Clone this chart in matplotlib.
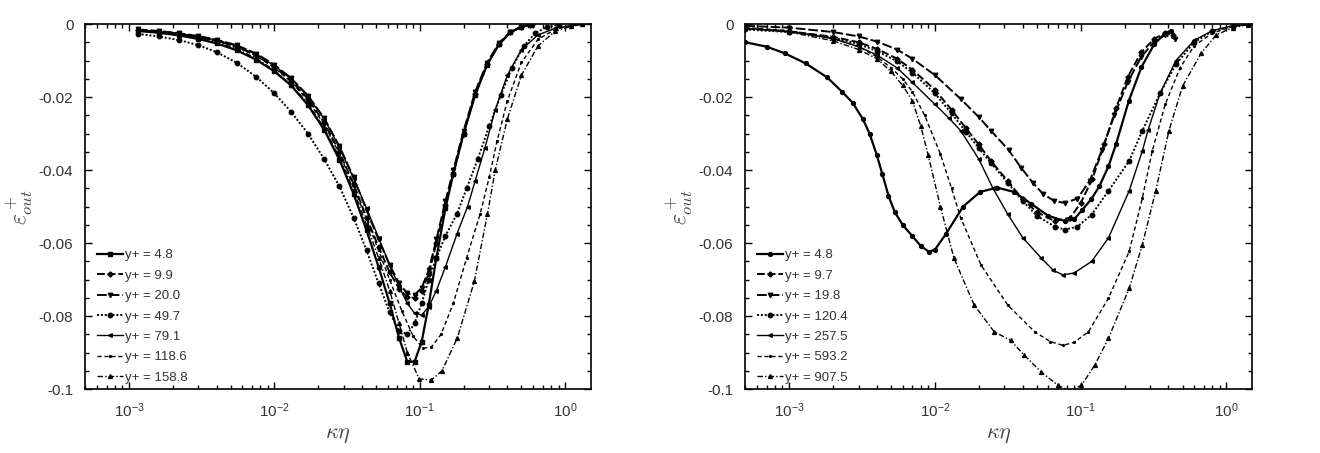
import numpy as np
import matplotlib
matplotlib.use("Agg")
import matplotlib.pyplot as plt
from matplotlib.ticker import FuncFormatter, MultipleLocator, LogLocator, NullFormatter

plt.rcParams['font.family'] = ['Liberation Sans', 'DejaVu Sans']
plt.rcParams['mathtext.fontset'] = 'cm'
plt.rcParams['axes.unicode_minus'] = False

# ---- left panel (kappa*eta, eps_out+) ----
LEFT_LABELS = ["y+ = 4.8", "y+ = 9.9", "y+ = 20.0", "y+ = 49.7", "y+ = 79.1", "y+ = 118.6", "y+ = 158.8"]

L_X_48 = [1.15e-3, 1.6e-3, 2.2e-3, 3e-3, 4e-3, 5.5e-3, 7.5e-3, 1e-2, 1.3e-2, 1.7e-2, 2.2e-2, 2.8e-2, 3.5e-2, 4.3e-2, 5.2e-2, 6.2e-2, 7.2e-2, 8.2e-2, 9.2e-2, 0.103, 0.115, 0.13, 0.15, 0.17, 0.2, 0.24, 0.29, 0.35, 0.42, 0.5, 0.57]
L_Y_48 = [-0.0019, -0.0024, -0.0031, -0.0041, -0.0053, -0.0072, -0.0098, -0.0130, -0.0168, -0.0222, -0.0290, -0.0372, -0.0465, -0.0565, -0.0665, -0.0765, -0.0860, -0.0925, -0.0925, -0.0870, -0.0770, -0.0640, -0.0505, -0.0410, -0.0300, -0.0195, -0.0112, -0.0056, -0.0023, -0.0008, -0.0002]

L_X_99 = [1.15e-3, 1.6e-3, 2.2e-3, 3e-3, 4e-3, 5.5e-3, 7.5e-3, 1e-2, 1.3e-2, 1.7e-2, 2.2e-2, 2.8e-2, 3.5e-2, 4.3e-2, 5.2e-2, 6.2e-2, 7.2e-2, 8.2e-2, 9.2e-2, 0.103, 0.115, 0.13, 0.15, 0.17, 0.2, 0.24, 0.29, 0.35, 0.42, 0.5, 0.57]
L_Y_99 = [-0.0017, -0.0021, -0.0027, -0.0036, -0.0046, -0.0062, -0.0086, -0.0118, -0.0155, -0.0205, -0.0270, -0.0350, -0.0438, -0.0530, -0.0610, -0.0680, -0.0725, -0.0748, -0.0750, -0.0730, -0.0685, -0.0600, -0.0495, -0.0410, -0.0300, -0.0192, -0.0110, -0.0055, -0.0022, -0.0008, -0.0002]

L_X_200 = [1.15e-3, 1.6e-3, 2.2e-3, 3e-3, 4e-3, 5.5e-3, 7.5e-3, 1e-2, 1.3e-2, 1.7e-2, 2.2e-2, 2.8e-2, 3.5e-2, 4.3e-2, 5.2e-2, 6.2e-2, 7.2e-2, 8.2e-2, 9.2e-2, 0.103, 0.115, 0.13, 0.15, 0.17, 0.2, 0.24, 0.29, 0.35, 0.42, 0.5, 0.6]
L_Y_200 = [-0.0015, -0.0019, -0.0025, -0.0033, -0.0043, -0.0058, -0.0081, -0.0112, -0.0148, -0.0196, -0.0258, -0.0335, -0.0420, -0.0510, -0.0590, -0.0660, -0.0710, -0.0738, -0.0742, -0.0722, -0.0675, -0.0590, -0.0485, -0.0400, -0.0292, -0.0186, -0.0106, -0.0052, -0.0021, -0.0007, -0.0002]

L_X_497 = [1.15e-3, 1.6e-3, 2.2e-3, 3e-3, 4e-3, 5.5e-3, 7.5e-3, 1e-2, 1.3e-2, 1.7e-2, 2.2e-2, 2.8e-2, 3.5e-2, 4.3e-2, 5.2e-2, 6.2e-2, 7.2e-2, 8.2e-2, 9.2e-2, 0.103, 0.115, 0.13, 0.15, 0.18, 0.21, 0.25, 0.3, 0.36, 0.43, 0.52, 0.62, 0.75, 0.9]
L_Y_497 = [-0.0027, -0.0034, -0.0044, -0.0058, -0.0077, -0.0106, -0.0145, -0.0190, -0.0240, -0.0300, -0.0370, -0.0445, -0.0530, -0.0620, -0.0710, -0.0790, -0.0840, -0.0850, -0.0820, -0.0765, -0.0700, -0.0640, -0.0580, -0.0520, -0.0450, -0.0370, -0.0280, -0.0195, -0.0120, -0.0060, -0.0025, -0.0008, -0.0002]

L_X_791 = [1.15e-3, 1.6e-3, 2.2e-3, 3e-3, 4e-3, 5.5e-3, 7.5e-3, 1e-2, 1.3e-2, 1.7e-2, 2.2e-2, 2.8e-2, 3.5e-2, 4.3e-2, 5.2e-2, 6.2e-2, 7.2e-2, 8.2e-2, 9.2e-2, 0.103, 0.115, 0.13, 0.15, 0.18, 0.213, 0.24, 0.28, 0.33, 0.4, 0.5, 0.65, 0.85, 1.1, 1.3]
L_Y_791 = [-0.0016, -0.0020, -0.0026, -0.0034, -0.0044, -0.0060, -0.0083, -0.0114, -0.0150, -0.0198, -0.0260, -0.0338, -0.0422, -0.0505, -0.0585, -0.0660, -0.0720, -0.0765, -0.0792, -0.0797, -0.0775, -0.0730, -0.0665, -0.0575, -0.0500, -0.0430, -0.0340, -0.0235, -0.0140, -0.0070, -0.0030, -0.0012, -0.0004, -0.0001]

L_X_1186 = [1.15e-3, 1.6e-3, 2.2e-3, 3e-3, 4e-3, 5.5e-3, 7.5e-3, 1e-2, 1.3e-2, 1.7e-2, 2.2e-2, 2.8e-2, 3.5e-2, 4.3e-2, 5.2e-2, 6.2e-2, 7.5e-2, 9e-2, 0.105, 0.12, 0.14, 0.17, 0.21, 0.26, 0.3, 0.34, 0.4, 0.5, 0.65, 0.85, 1.1, 1.3]
L_Y_1186 = [-0.0017, -0.0021, -0.0027, -0.0035, -0.0046, -0.0063, -0.0087, -0.0120, -0.0158, -0.0210, -0.0275, -0.0355, -0.0445, -0.0535, -0.0620, -0.0700, -0.0785, -0.0855, -0.0888, -0.0885, -0.0850, -0.0765, -0.0640, -0.0520, -0.0420, -0.0320, -0.0210, -0.0105, -0.0042, -0.0015, -0.0004, -0.0001]

L_X_1588 = [1.15e-3, 1.6e-3, 2.2e-3, 3e-3, 4e-3, 5.5e-3, 7.5e-3, 1e-2, 1.3e-2, 1.7e-2, 2.2e-2, 2.8e-2, 3.5e-2, 4.3e-2, 5.2e-2, 6.2e-2, 7.2e-2, 8.2e-2, 9.9e-2, 0.12, 0.142, 0.181, 0.237, 0.292, 0.33, 0.4, 0.5, 0.65, 0.85, 1.1, 1.3]
L_Y_1588 = [-0.0018, -0.0023, -0.0029, -0.0038, -0.0050, -0.0068, -0.0094, -0.0127, -0.0166, -0.0218, -0.0285, -0.0365, -0.0455, -0.0550, -0.0640, -0.0730, -0.0820, -0.0900, -0.0972, -0.0975, -0.0950, -0.0860, -0.0705, -0.0520, -0.0400, -0.0260, -0.0140, -0.0060, -0.0020, -0.0006, -0.0001]

# ---- right panel ----
RIGHT_LABELS = ["y+ = 4.8", "y+ = 9.7", "y+ = 19.8", "y+ = 120.4", "y+ = 257.5", "y+ = 593.2", "y+ = 907.5"]

R_X_48 = [5e-4, 7e-4, 9.3e-4, 1.3e-3, 1.82e-3, 2.3e-3, 2.72e-3, 3.2e-3, 3.56e-3, 4e-3, 4.35e-3, 4.8e-3, 5.3e-3, 6e-3, 6.97e-3, 8e-3, 9.1e-3, 1.0e-2, 1.19e-2, 1.56e-2, 2.04e-2, 2.67e-2, 3.49e-2, 4.56e-2, 5.97e-2, 7.8e-2, 0.09, 0.102, 0.118, 0.134, 0.155, 0.175, 0.214, 0.261, 0.32, 0.38, 0.418]
R_Y_48 = [-0.0050, -0.0062, -0.0080, -0.0108, -0.0146, -0.0185, -0.0215, -0.0260, -0.0300, -0.0360, -0.0410, -0.0470, -0.0515, -0.0550, -0.0580, -0.0608, -0.0624, -0.0618, -0.0575, -0.0500, -0.0460, -0.0448, -0.0460, -0.0492, -0.0525, -0.0540, -0.0535, -0.0510, -0.0480, -0.0445, -0.0390, -0.0328, -0.0210, -0.0118, -0.0055, -0.0025, -0.0018]

R_X_97 = [5e-4, 1e-3, 2e-3, 3e-3, 4e-3, 5.5e-3, 7e-3, 1e-2, 1.3e-2, 1.63e-2, 2e-2, 2.42e-2, 3.16e-2, 4e-2, 5e-2, 6.64e-2, 8.5e-2, 0.1, 0.12, 0.145, 0.175, 0.21, 0.26, 0.32, 0.38, 0.43]
R_Y_97 = [-0.0012, -0.0020, -0.0035, -0.0050, -0.0068, -0.0095, -0.0125, -0.0180, -0.0235, -0.0285, -0.0330, -0.0375, -0.0430, -0.0480, -0.0515, -0.0540, -0.0530, -0.0490, -0.0425, -0.0330, -0.0230, -0.0145, -0.0078, -0.0040, -0.0025, -0.0030]

R_X_198 = [5e-4, 1e-3, 2e-3, 3e-3, 4e-3, 5.5e-3, 7e-3, 1e-2, 1.5e-2, 2e-2, 2.42e-2, 3.2e-2, 3.89e-2, 4.7e-2, 5.5e-2, 6.6e-2, 7.78e-2, 9.5e-2, 0.115, 0.14, 0.17, 0.21, 0.26, 0.32, 0.38, 0.44]
R_Y_198 = [-0.0005, -0.0010, -0.0022, -0.0034, -0.0048, -0.0070, -0.0095, -0.0140, -0.0205, -0.0255, -0.0292, -0.0345, -0.0393, -0.0435, -0.0465, -0.0485, -0.0490, -0.0478, -0.0430, -0.0345, -0.0250, -0.0160, -0.0090, -0.0048, -0.0030, -0.0040]

R_X_1204 = [5e-4, 1e-3, 2e-3, 3e-3, 4e-3, 5.5e-3, 7e-3, 1e-2, 1.3e-2, 1.63e-2, 2e-2, 2.42e-2, 3.16e-2, 4e-2, 5e-2, 6.64e-2, 7.78e-2, 9.5e-2, 0.119, 0.155, 0.215, 0.265, 0.35, 0.45, 0.6, 0.8, 1.1, 1.4]
R_Y_1204 = [-0.0015, -0.0022, -0.0037, -0.0055, -0.0074, -0.0102, -0.0133, -0.0190, -0.0245, -0.0295, -0.0340, -0.0380, -0.0435, -0.0485, -0.0525, -0.0555, -0.0563, -0.0555, -0.0522, -0.0457, -0.0375, -0.0292, -0.0190, -0.0110, -0.0050, -0.0020, -0.0006, -0.0001]

R_X_2575 = [5e-4, 1e-3, 2e-3, 3e-3, 4e-3, 5.5e-3, 7e-3, 1e-2, 1.25e-2, 1.5e-2, 2e-2, 2.5e-2, 3.16e-2, 4e-2, 5.36e-2, 6.5e-2, 7.55e-2, 9e-2, 0.119, 0.155, 0.215, 0.265, 0.29, 0.35, 0.45, 0.6, 0.8, 1.1, 1.4]
R_Y_2575 = [-0.0012, -0.0020, -0.0040, -0.0062, -0.0085, -0.0120, -0.0160, -0.0220, -0.0258, -0.0292, -0.0370, -0.0450, -0.0521, -0.0585, -0.0641, -0.0675, -0.0687, -0.0682, -0.0650, -0.0586, -0.0457, -0.0347, -0.0290, -0.0190, -0.0100, -0.0045, -0.0018, -0.0005, -0.0001]

R_X_5932 = [5e-4, 1e-3, 2e-3, 3e-3, 4e-3, 5e-3, 6e-3, 7e-3, 8.5e-3, 1.09e-2, 1.3e-2, 1.5e-2, 2.07e-2, 3.16e-2, 4.84e-2, 6.2e-2, 7.55e-2, 9e-2, 0.113, 0.155, 0.215, 0.265, 0.31, 0.38, 0.48, 0.6, 0.8, 1.1, 1.4]
R_Y_5932 = [-0.0010, -0.0018, -0.0040, -0.0062, -0.0090, -0.0120, -0.0150, -0.0185, -0.0250, -0.0356, -0.0450, -0.0530, -0.0660, -0.0770, -0.0843, -0.0870, -0.0880, -0.0872, -0.0843, -0.0751, -0.0623, -0.0476, -0.0347, -0.0220, -0.0120, -0.0060, -0.0025, -0.0007, -0.0001]

R_X_9075 = [5e-4, 1e-3, 2e-3, 3e-3, 4e-3, 5e-3, 6e-3, 7e-3, 8e-3, 9e-3, 1.09e-2, 1.35e-2, 1.86e-2, 2.55e-2, 3.3e-2, 4.1e-2, 5.36e-2, 7e-2, 8.4e-2, 0.101, 0.125, 0.155, 0.215, 0.265, 0.327, 0.403, 0.5, 0.67, 0.85, 1.1, 1.4]
R_Y_9075 = [-0.0012, -0.0022, -0.0046, -0.0070, -0.0095, -0.0130, -0.0168, -0.0210, -0.0280, -0.0360, -0.0500, -0.0641, -0.0770, -0.0843, -0.0866, -0.0907, -0.0953, -0.0990, -0.1004, -0.0990, -0.0934, -0.0861, -0.0724, -0.0604, -0.0457, -0.0292, -0.0170, -0.0080, -0.0030, -0.0010, -0.0002]

# (linestyle, linewidth, marker, markersize)
STYLES = [
    ("-", 1.6, "s", 2.8),
    ((0, (4, 1.5)), 1.4, "D", 2.6),
    ((0, (5, 1.5)), 1.4, "v", 3.2),
    ((0, (1, 1)), 1.4, "o", 3.2),
    ("-", 1.0, "<", 2.6),
    ((0, (3, 2)), 1.0, ".", 2.6),
    ((0, (4, 1.5, 1, 1.5)), 1.0, "^", 2.8),
]

def style_axes(ax):
    ax.set_xscale("log")
    ax.set_xlim(5e-4, 1.5)
    ax.set_ylim(-0.1, 0)
    ax.xaxis.set_major_locator(LogLocator(base=10, numticks=10))
    ax.xaxis.set_minor_locator(LogLocator(base=10, subs=np.arange(2, 10), numticks=20))
    ax.xaxis.set_minor_formatter(NullFormatter())
    ax.xaxis.set_major_formatter(FuncFormatter(lambda v, p: r"$\mathregular{10^{%d}}$" % int(round(np.log10(v)))))
    ax.yaxis.set_major_locator(MultipleLocator(0.02))
    ax.yaxis.set_minor_locator(MultipleLocator(0.005))
    ax.yaxis.set_major_formatter(FuncFormatter(lambda v, p: "0" if abs(v) < 1e-9 else ("%g" % round(v, 3))))
    ax.tick_params(which="both", direction="in", top=True, right=True, labelcolor="#333333", width=1.0)
    ax.tick_params(which="major", length=5)
    ax.tick_params(which="minor", length=3)
    ax.tick_params(axis="x", which="major", pad=9, labelsize=11)
    ax.tick_params(axis="y", which="major", pad=8.5, labelsize=11)
    for s in ax.spines.values():
        s.set_linewidth(1.2)
    ax.set_xlabel(r"$\kappa\eta$", fontsize=16, color="#444444", labelpad=3)
    ax.set_ylabel(r"$\varepsilon^+_{out}$", fontsize=17, color="#444444", labelpad=3)

fig = plt.figure(figsize=(13.2, 4.53), dpi=100)
ax1 = fig.add_axes([0.0646, 0.141, 0.383, 0.806])
ax2 = fig.add_axes([0.5646, 0.141, 0.384, 0.806])

left_data = [(L_X_48, L_Y_48), (L_X_99, L_Y_99), (L_X_200, L_Y_200), (L_X_497, L_Y_497),
             (L_X_791, L_Y_791), (L_X_1186, L_Y_1186), (L_X_1588, L_Y_1588)]
right_data = [(R_X_48, R_Y_48), (R_X_97, R_Y_97), (R_X_198, R_Y_198), (R_X_1204, R_Y_1204),
              (R_X_2575, R_Y_2575), (R_X_5932, R_Y_5932), (R_X_9075, R_Y_9075)]

for ax, data, labels, first_marker in [(ax1, left_data, LEFT_LABELS, "s"), (ax2, right_data, RIGHT_LABELS, "o")]:
    for i, ((xs, ys), lab) in enumerate(zip(data, labels)):
        ls, lw, mk, ms = STYLES[i]
        if i == 0:
            mk = first_marker
        ax.plot(xs, ys, linestyle=ls, linewidth=lw, marker=mk, markersize=ms, color="black", label=lab)
    style_axes(ax)
    ax.legend(loc="lower left", bbox_to_anchor=(0.012, 0.0), frameon=False, fontsize=9.5, handlelength=2.0,
              handletextpad=0.15, labelspacing=0.62, borderaxespad=0.2, borderpad=0.2, labelcolor="#333333")

fig.savefig("out.png", dpi=100)
